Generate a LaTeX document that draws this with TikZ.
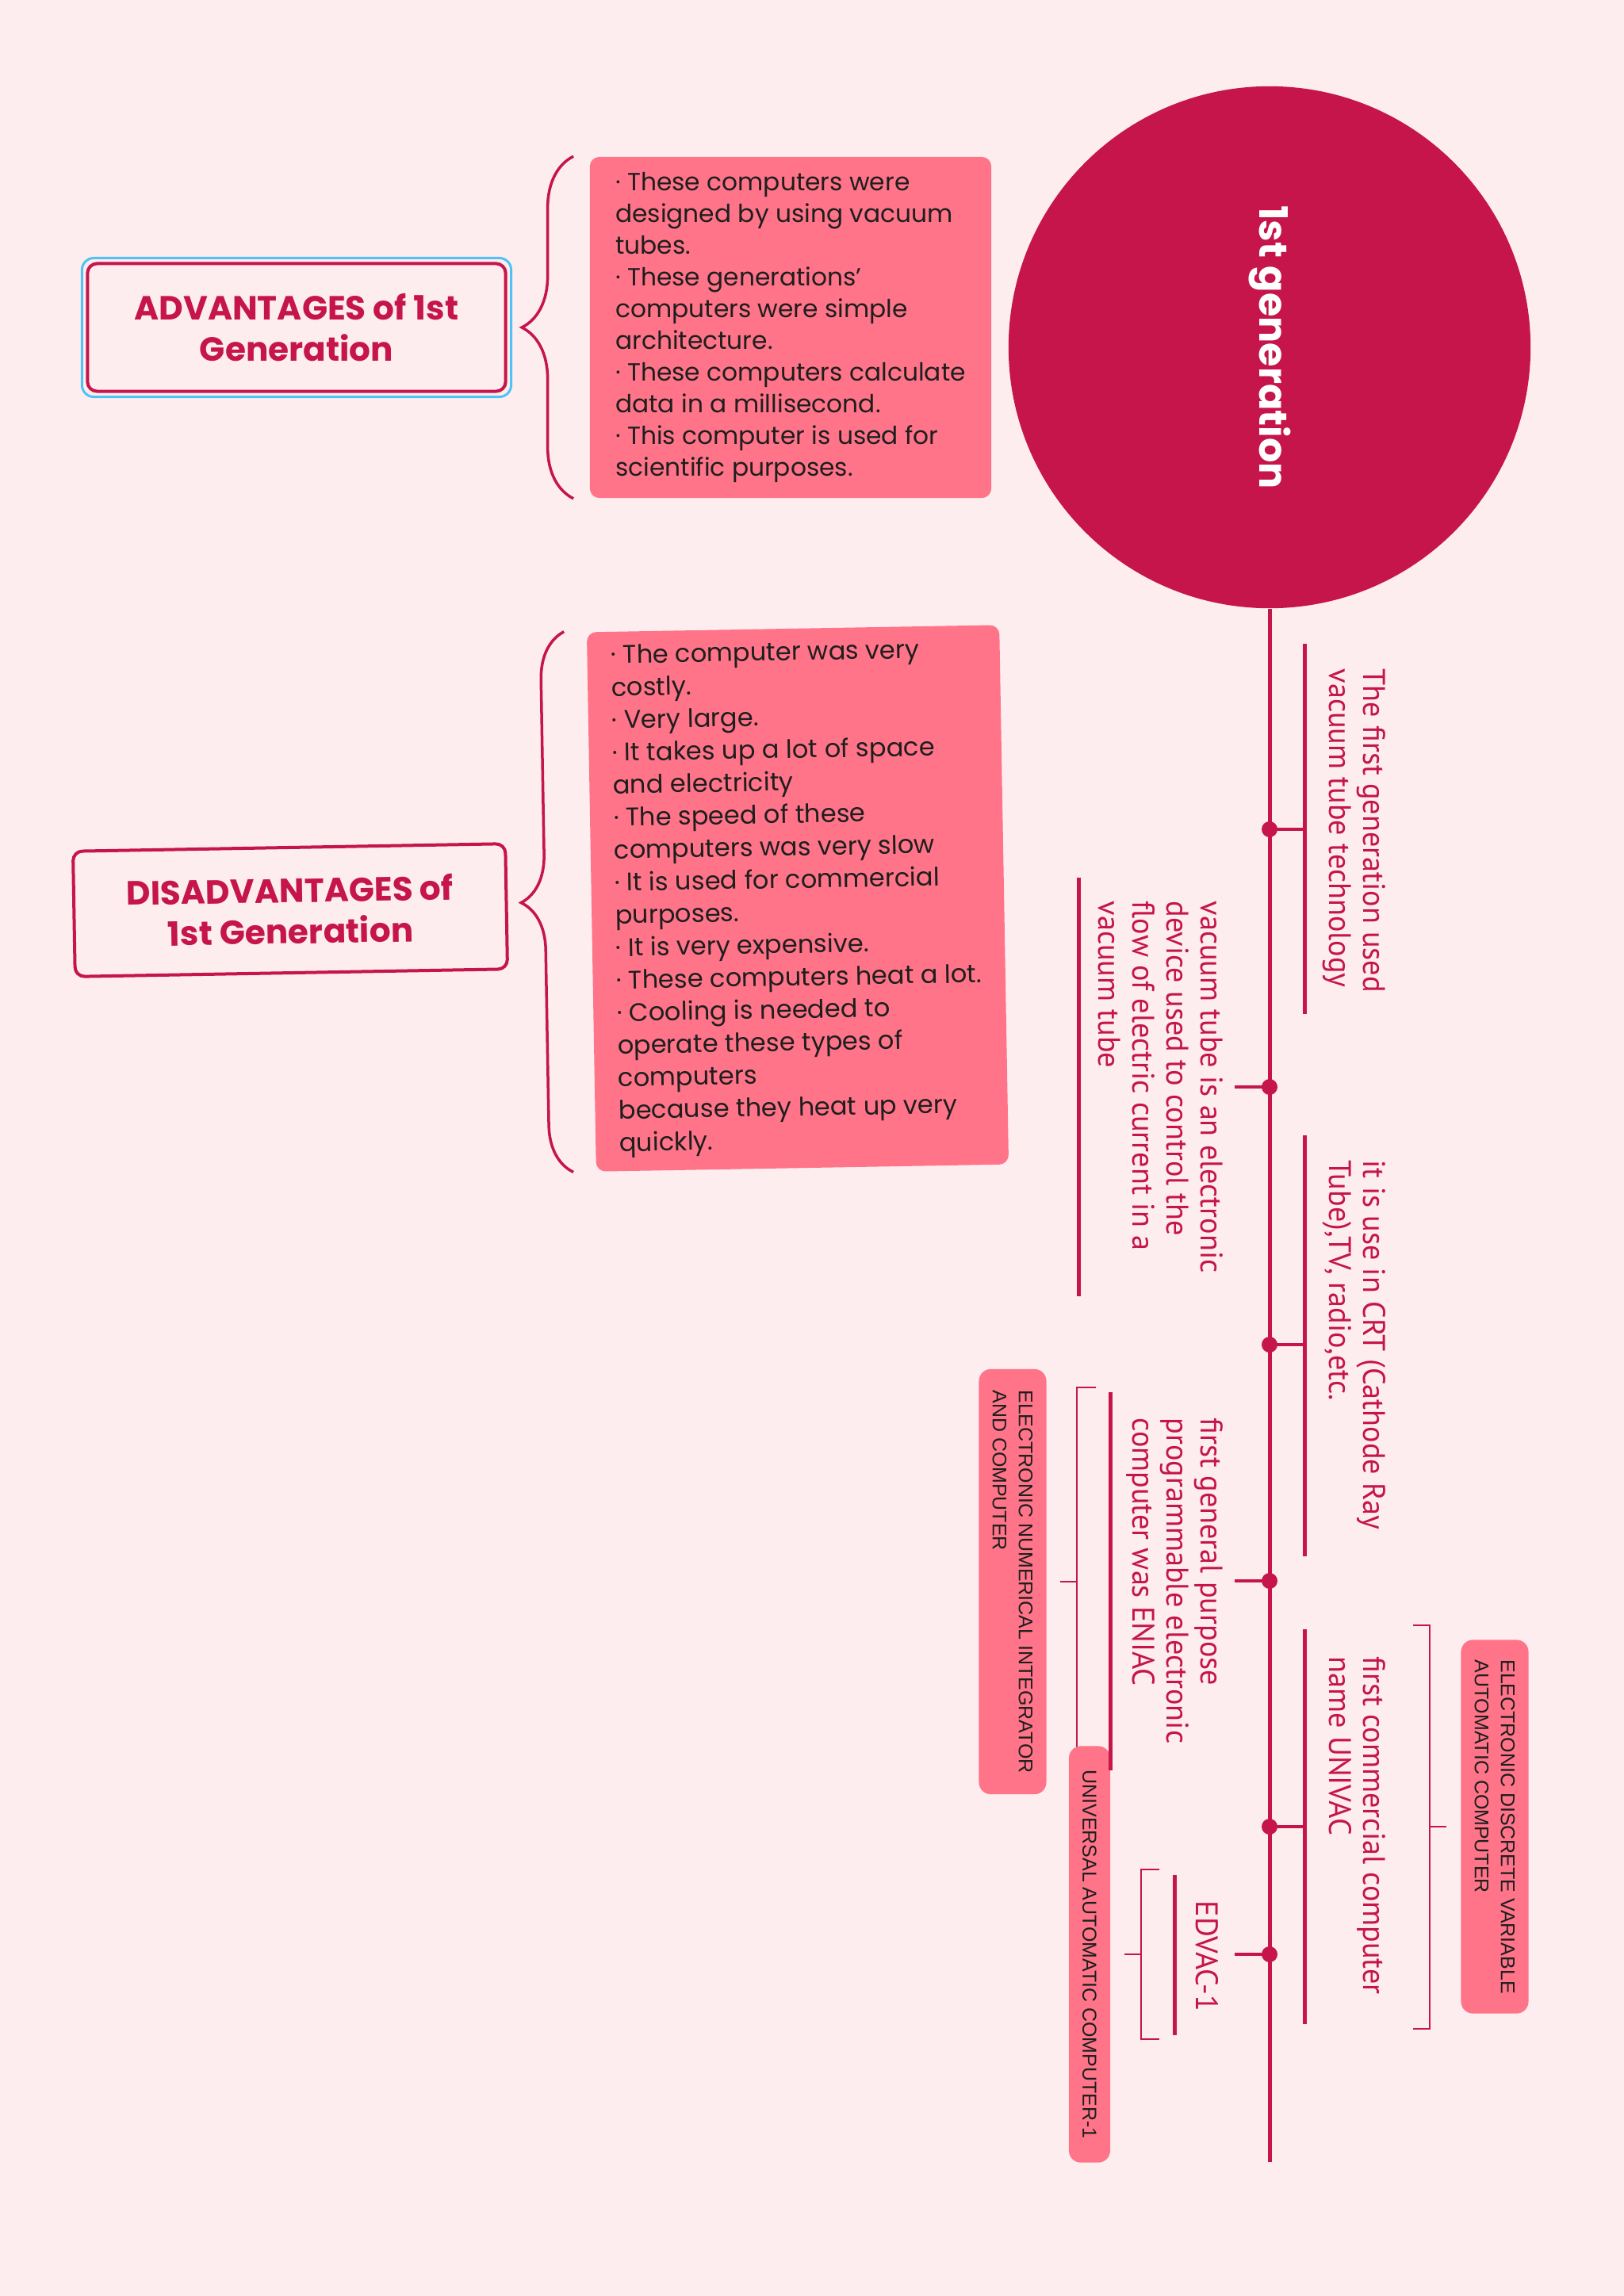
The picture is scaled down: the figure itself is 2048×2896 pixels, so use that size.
\documentclass[tikz,border=0pt]{standalone}
\usepackage{fontspec}
\setmainfont{Poppins}
\newfontfamily\branchfont{PT Sans}[FakeStretch=0.97]
\newfontfamily\tagfont{Liberation Sans}
\usetikzlibrary{decorations.pathreplacing}
\definecolor{crimson}{HTML}{C5154A}
\definecolor{boxpink}{HTML}{FF7489}
\definecolor{paper}{HTML}{FDEDEF}
\definecolor{ink}{HTML}{1E1E1E}
\definecolor{selblue}{HTML}{4FC3F7}

\begin{document}
\begin{tikzpicture}[x=0.01cm,y=-0.01cm,
    head/.style={draw=crimson,line width=0.04cm,rounded corners=0.12cm,fill=paper,text=crimson,align=center,font=\bfseries\fontsize{12}{14.8}\selectfont},
    body/.style={fill=boxpink,rounded corners=0.12cm,text=ink,align=left,inner sep=0,font=\fontsize{8.9}{11.4}\selectfont},
    gen/.style={circle,fill=crimson,text=white,minimum size=6.58cm,rotate=-90,font=\bfseries\fontsize{14}{17}\selectfont},
    spine/.style={crimson,line width=0.05cm},
    bar/.style={crimson,line width=0.05cm},
    stub/.style={crimson,line width=0.035cm},
    bracketline/.style={crimson,line width=0.025cm},
    dot/.style={circle,fill=crimson,inner sep=0,minimum size=0.2cm},
    branch/.style={rotate=-90,anchor=north west,align=left,inner sep=0,text=crimson,font=\branchfont\fontsize{11.2}{12.2}\selectfont},
    tag/.style={rotate=-90,fill=boxpink,rounded corners=0.15cm,text=ink,align=left,inner sep=0,font=\tagfont\fontsize{7.1}{9.4}\selectfont},
    curly/.style={crimson,line width=0.035cm,decorate,decoration={brace,amplitude=#1}}]
    \path[use as bounding box,fill=paper] (0,0) rectangle (2048,2896); %背景

    \node[gen] (gen) at (1601,438) {1st generation}; %中心
    \coordinate (spineend) at (1601,2727);
    \draw[spine] (gen) -- (spineend); %幹
    \foreach \y [count=\i] in {1046,1371,1696,1994,2304,2465}
    \node[dot] (d\i) at (1601,\y) {};
    \coordinate (rbar) at (1645,0);
    \coordinate (lstub) at (1557,0);
    \foreach \i in {1,3,5}
    \draw[stub] (d\i.center) -- (d\i -| rbar);
    \foreach \i in {2,4,6}
    \draw[stub] (d\i.center) -- (d\i -| lstub);

    % 下線
    \foreach \a/\b in {812/1279,1432/1963,2055/2553}
    \draw[bar] (1645,\a) -- (1645,\b);
    \draw[bar] (1360,1107) -- (1360,1635);
    \draw[bar] (1481,2365) -- (1481,2567);

    \node[branch] (t1) at (1748,843) {The first generation used\\vacuum tube technology};
    \node[branch] (t2) at (1543,1136) {vacuum tube is an electronic\\device used to control the\\flow of electric current in a\\vacuum tube};
    \node[branch] (t3) at (1748,1463) {it is use in CRT (Cathode Ray\\Tube),TV, radio,etc.};
    \node[branch] (t4) at (1543,1788) {first general purpose\\programmable electronic\\computer was ENIAC};
    \node[branch] (t5) at (1748,2089) {first commercial computer\\name UNIVAC};
    \node[branch] (t6) at (1537,2397) {EDVAC-1};

    % 括弧
    \draw[bracketline] (1382,1750) -| (1358,2238) -- (1382,2238);
    \draw[bracketline] (1462,2358) -| (1439,2572) -- (1462,2572);
    \draw[bracketline] (1782,2050) -| (1803,2559) -- (1782,2559);
    \node[tag,minimum width=5.36cm,minimum height=0.85cm] (enc) at (1277,1995) {ELECTRONIC NUMERICAL INTEGRATOR\\AND COMPUTER};
    \node[tag,minimum width=5.25cm,minimum height=0.52cm] (uac) at (1374,2465) {UNIVERSAL AUTOMATIC COMPUTER-1};
    \node[tag,minimum width=4.71cm,minimum height=0.85cm] (edv) at (1885,2304) {ELECTRONIC DISCRETE VARIABLE\\AUTOMATIC COMPUTER};
    \draw[bracketline,shorten >=0.17cm] (1358,1995) -- (enc);
    \draw[bracketline,shorten >=0.17cm] (1439,2465) -- (uac);
    \draw[bracketline,shorten >=0.18cm] (1803,2304) -- (edv);
    \draw[bar] (1400,1756) -- (1400,2233);

    % 長所
    \node[head,minimum width=5.27cm,minimum height=1.61cm] (advhead) at (374,413) {ADVANTAGES of 1st\\Generation};
    \draw[selblue,line width=0.03cm,rounded corners=0.15cm] ([shift={(-0.05cm,-0.05cm)}]advhead.south west) rectangle ([shift={(0.05cm,0.05cm)}]advhead.north east);
    \node[body,minimum width=5.06cm,minimum height=4.30cm] (advbody) at (997,413) {· These computers were\\designed by using vacuum\\tubes.\\· These generations’\\computers were simple\\architecture.\\· These computers calculate\\data in a millisecond.\\· This computer is used for\\scientific purposes.};
    \draw[curly=0.65cm] ([xshift=-0.2cm]advbody.south west) -- ([xshift=-0.2cm]advbody.north west);

    % 短所
    \node[head,rotate=1,minimum width=5.45cm,minimum height=1.58cm] (dishead) at (366,1148) {DISADVANTAGES of\\1st Generation};
    \node[body,rotate=1,minimum width=5.2cm,minimum height=6.8cm,font=\fontsize{9.1}{11.67}\selectfont] (disbody) at (1006,1133) {· The computer was very\\costly.\\· Very large.\\· It takes up a lot of space\\and electricity\\· The speed of these\\computers was very slow\\· It is used for commercial\\purposes.\\· It is very expensive.\\· These computers heat a lot.\\· Cooling is needed to\\operate these types of\\computers\\because they heat up very\\quickly.};
    \draw[curly=0.6cm] ([xshift=-0.28cm]disbody.south west) -- ([xshift=-0.28cm]disbody.north west);
\end{tikzpicture}
\end{document}
